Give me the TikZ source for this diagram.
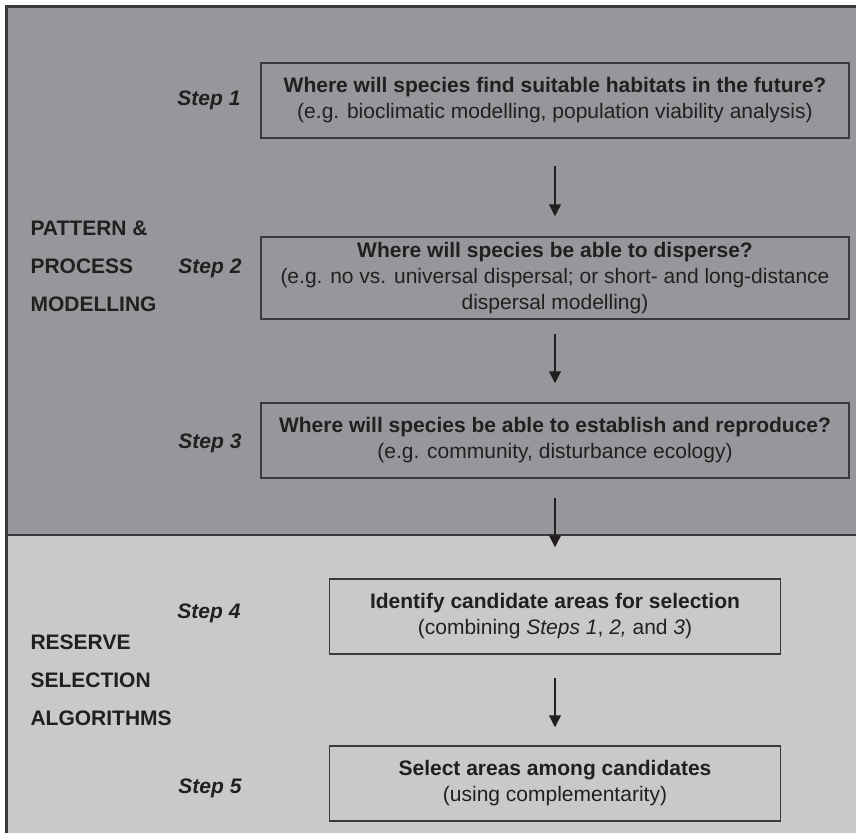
\documentclass[tikz,border=0pt]{standalone}
\usepackage{fontspec}
\setmainfont{Liberation Sans}
\usetikzlibrary{arrows.meta}
\definecolor{darkpanel}{HTML}{96979B}
\definecolor{lightpanel}{HTML}{C8C9CB}
\definecolor{ink}{HTML}{231F20}
\definecolor{edge}{HTML}{3A3A3C}
\begin{document}
\begin{tikzpicture}[x=1pt,y=-1pt,
  every node/.style={text=ink, font=\fontsize{21}{26}\selectfont},
  stepbox/.style={draw=edge, line width=1.5pt, align=center, inner sep=0pt, minimum height=75pt},
  steplabel/.style={font=\fontsize{21}{26}\selectfont\bfseries\itshape, anchor=east},
  grouplabel/.style={font=\fontsize{21}{26}\selectfont\bfseries, anchor=west},
  flow/.style={draw=ink, line width=1.3pt, -{Triangle[width=12pt,length=12pt]}}]
\useasboundingbox (0,0) rectangle (856,832);
\clip (0,0) rectangle (856,832);
\fill[darkpanel] (6.5,6.5) rectangle (870,535);
\fill[lightpanel] (6.5,535) rectangle (870,850);
\draw[edge, line width=2.5pt] (6.5,850) -- (6.5,6.5) -- (870,6.5);
\draw[edge, line width=1.5pt] (6.5,535) -- (870,535);

\node[stepbox, minimum width=588pt] (b1) at (555,100.5)
  {\textbf{Where will species find suitable habitats in the future?}\\(e.g. bioclimatic modelling, population viability analysis)};
\node[stepbox, minimum width=588pt, minimum height=82pt] (b2) at (555,278)
  {\textbf{Where will species be able to disperse?}\\(e.g. no vs. universal dispersal; or short- and long-distance\\dispersal modelling)};
\node[stepbox, minimum width=588pt] (b3) at (555,440.5)
  {\textbf{Where will species be able to establish and reproduce?}\\(e.g. community, disturbance ecology)};
\node[stepbox, minimum width=451pt] (b4) at (555,616.5)
  {\textbf{Identify candidate areas for selection}\\(combining \textit{Steps 1}, \textit{2,} and \textit{3})};
\node[stepbox, minimum width=451pt] (b5) at (555,783.5)
  {\textbf{Select areas among candidates}\\(using complementarity)};

\node[steplabel] (s1) at (244,100) {Step 1};
\node[steplabel] (s2) at (245,268) {Step 2};
\node[steplabel] (s3) at (245,443) {Step 3};
\node[steplabel] (s4) at (244,613) {Step 4};
\node[steplabel] (s5) at (245,788) {Step 5};

\node[grouplabel] (g1) at (27,228) {PATTERN \&};
\node[grouplabel] (g2) at (27,266) {PROCESS};
\node[grouplabel] (g3) at (27,304) {MODELLING};
\node[grouplabel] (g4) at (27,642) {RESERVE};
\node[grouplabel] (g5) at (27,680) {SELECTION};
\node[grouplabel] (g6) at (27,718) {ALGORITHMS};

\draw[flow, shorten <=27pt, shorten >=20pt] (b1) -- (b2);
\draw[flow, shorten <=14pt, shorten >=19pt] (b2) -- (b3);
\draw[flow, shorten <=19pt, shorten >=31pt] (b3) -- (b4);
\draw[flow, shorten <=23pt, shorten >=18pt] (b4) -- (b5);
\end{tikzpicture}
\end{document}
